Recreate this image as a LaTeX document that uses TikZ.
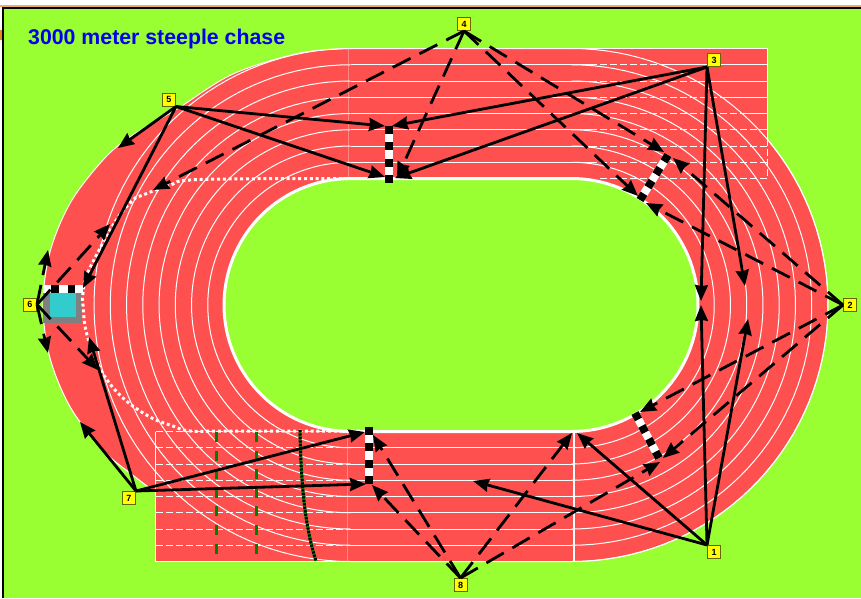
\documentclass[tikz,border=0pt]{standalone}
\usepackage{fontspec}
\setmainfont{Liberation Sans}
\usetikzlibrary{arrows.meta}
\definecolor{turf}{HTML}{99FF33}
\definecolor{track}{HTML}{FF5050}
\definecolor{water}{HTML}{33CCCC}
\definecolor{mark}{HTML}{FFFF00}
\definecolor{markline}{HTML}{666600}
\definecolor{titleblue}{HTML}{0000EE}
\definecolor{hurdle}{HTML}{008000}
\definecolor{edgeorange}{HTML}{E88A20}
\tikzset{
  marker/.style={rectangle,draw=markline,fill=mark,line width=1pt,minimum size=13pt,inner sep=0pt,font=\fontsize{9}{9}\selectfont\bfseries},
  solidarrow/.style={draw=black,line width=2.8pt,-{Stealth[length=16pt,width=13pt,inset=1.2pt]}},
  dasharrow/.style={solidarrow,dash pattern=on 20pt off 10pt},
  lane/.style={draw=white,line width=1pt},
  lanedash/.style={draw=white,line width=1pt,dash pattern=on 7pt off 3pt},
}
\newcommand{\checkbar}[3]{%
  \draw[white,line width=8pt] (#1) -- (#2);
  \draw[black,line width=8pt,dash pattern=on #3pt off #3pt] (#1) -- (#2);}
\begin{document}
\begin{tikzpicture}[x=1pt,y=-1pt]
\useasboundingbox (0,0) rectangle (861,598);
% page
\fill[white] (0,0) rectangle (861,598);
\fill[edgeorange!70] (0,5) rectangle (861,7);
\fill[edgeorange] (0,30) rectangle (2,40);
\fill[turf] (3,8) rectangle (861,598);
\draw[black,line width=1.6pt] (3,598) -- (3,8) -- (861,8);
% track body
\fill[track,draw=white,line width=1pt] plot[smooth,tension=0.55] coordinates {(350.5,561.5) (250,545) (175,505) (130,473) (103,450) (70.5,407.5) (50,358) (43,305) (50,252) (70.5,202.5) (103,160) (130,137) (177,109) (233,74) (300,53) (350.5,48.5)}
  -- (571.5,48.5) -- plot[domain=-90:90,samples=70] ({571.5+256.5*cos(\x)},{305+256.5*sin(\x)}) -- cycle;
\fill[track] (155.5,431.5) rectangle (574,561.5);
\fill[track] (571.5,48.5) rectangle (767,178.5);
\draw[white,line width=1pt] (155.5,431.5) -- (155.5,561.5) -- (574,561.5);
\draw[white,line width=1pt] (571.5,48.5) -- (767,48.5) -- (767,139);
\draw[lanedash] (767,139) -- (767,178.5) -- (600,178.5);
% straights, top
\foreach \k in {1,...,7}{
  \pgfmathsetmacro{\yy}{178.5-16.25*\k}
  \pgfmathsetmacro{\crossx}{min(767,571.5+256.5*sqrt(1-((305-\yy)/256.5)*((305-\yy)/256.5)))}
  \draw[lane] (350.5,\yy) -- (590,\yy);
  \draw[lanedash] (590,\yy) -- (\crossx,\yy);
  \draw[lane] (\crossx,\yy) -- (767,\yy);
}
% straights, bottom
\foreach \k in {0,...,7}{
  \pgfmathsetmacro{\yy}{431.5+16.25*\k}
  \draw[lanedash] (155.5,\yy) -- (347,\yy);
  \draw[lane] (347,\yy) -- (574,\yy);
}
\draw[white,opacity=.3,line width=1pt] (348,48.5) -- (348,178.5);
\draw[white,opacity=.3,line width=1pt] (347,431.5) -- (347,561.5);
% curved lanes
\foreach \k in {1,...,8}{
  \pgfmathsetmacro{\rr}{126.5+16.25*\k}
  \draw[lane] plot[domain=90:270,samples=70] ({350.5+\rr*cos(\x)},{305+\rr*sin(\x)});
  \ifnum\k<8
  \draw[lane] plot[domain=-90:90,samples=70] ({571.5+\rr*cos(\x)},{305+\rr*sin(\x)});
  \fi
}
\draw[white,line width=1pt] plot[domain=-90:90,samples=70] ({571.5+256.5*cos(\x)},{305+256.5*sin(\x)});
% infield
\fill[turf,draw=white,line width=3pt] plot[domain=90:270,samples=70] ({350.5+126.5*cos(\x)},{305+126.5*sin(\x)}) -- plot[domain=-90:90,samples=70] ({571.5+126.5*cos(\x)},{305+126.5*sin(\x)}) -- cycle;
\draw[white,line width=2pt] (574,431.5) -- (574,561.5);
% water jump
\fill[gray] (43,293) rectangle (82,323);
\fill[water] (50,293) rectangle (76,317);
\fill[white] (43,285) rectangle (83,293);
\fill[black] (51,285) rectangle (59,293);
\fill[black] (67.5,285) rectangle (75,293);
% dotted steeple lane
\draw[white,line width=3pt,dash pattern=on 3pt off 2.8pt] plot[smooth,tension=0.6] coordinates {(360,431) (230,431) (190,431) (173,426) (150,417) (123,398) (102,372) (87,335) (83,305) (83,293) (88,272) (115,222) (133,200) (143,195) (170,185) (200,179.5) (350,178.5)};
% hurdles
\draw[hurdle,line width=3pt,dash pattern=on 10pt off 8.6pt] (216,432) -- (216,554);
\draw[hurdle,line width=3pt,dash pattern=on 10pt off 8.6pt] (256,432) -- (256,554);
\draw[hurdle,line width=3pt] (300,430) .. controls (301,490) and (306,530) .. (316,561);
\draw[black,line width=3pt,dash pattern=on 2pt off 1.5pt] (300,430) .. controls (301,490) and (306,530) .. (316,561);
% barriers
\coordinate (ba) at (389,126);
\coordinate (bb) at (389,183);
\coordinate (bc) at (369,427);
\coordinate (bd) at (369,484);
\coordinate (be) at (668,155);
\coordinate (bf) at (640,200);
\coordinate (bg) at (635,413);
\coordinate (bh) at (659,458);
\checkbar{ba}{bb}{8.14}
\checkbar{bc}{bd}{8.14}
\checkbar{be}{bf}{7.6}
\checkbar{bg}{bh}{7.3}
% title
\node[anchor=base west,inner sep=0pt,text=titleblue,font=\fontsize{21.3}{21.3}\selectfont\bfseries] (title) at (28,44) {3000 meter steeple chase};
% markers
\node[marker] (n1) at (714,552) {1};
\node[marker] (n2) at (850,305) {2};
\node[marker] (n3) at (714,60) {3};
\node[marker] (n4) at (464,24) {4};
\node[marker] (n5) at (169,99.5) {5};
\node[marker] (n6) at (30,304.5) {6};
\node[marker] (n7) at (129,498) {7};
\node[marker] (n8) at (460.5,585) {8};
% targets
\coordinate (ta) at (701,305);
\coordinate (tb) at (748,319);
\coordinate (tc) at (577,433);
\coordinate (td) at (473,481);
\coordinate (te) at (701,301);
\coordinate (tf) at (745,286);
\coordinate (tg) at (392,126);
\coordinate (th) at (395,178);
\coordinate (ti) at (646,203);
\coordinate (tj) at (673,158);
\coordinate (tk) at (640,412);
\coordinate (tl) at (663,458);
\coordinate (tm) at (664,152);
\coordinate (tn) at (638,196);
\coordinate (to) at (397,178);
\coordinate (tp) at (153,190);
\coordinate (tq) at (118,148);
\coordinate (tr) at (83,288);
\coordinate (ts) at (385,126);
\coordinate (tt) at (385,177);
\coordinate (tu) at (48,250);
\coordinate (tv) at (48,353);
\coordinate (tw) at (110,224);
\coordinate (tx) at (98,370);
\coordinate (ty) at (80,422);
\coordinate (tz) at (89,337);
\coordinate (ua) at (365,432);
\coordinate (ub) at (366,484);
\coordinate (uc) at (373,435);
\coordinate (ud) at (372,485);
\coordinate (ue) at (572,433);
\coordinate (uf) at (660,462);
% connectors
\foreach \t in {ta,tb,tc,td} \draw[solidarrow] (n1.north west) -- (\t);
\foreach \t in {te,tf,tg,th} \draw[solidarrow] (n3.south west) -- (\t);
\foreach \t in {tq,tr,ts,tt} \draw[solidarrow] (n5.south east) -- (\t);
\foreach \t in {ty,tz,ua,ub} \draw[solidarrow] (n7.north east) -- (\t);
\foreach \t in {ti,tj,tk,tl} \draw[dasharrow] (n2.west) -- (\t);
\foreach \t in {tm,tn,to,tp} \draw[dasharrow] (n4.south) -- (\t);
\foreach \t in {tu,tv,tw,tx} \draw[dasharrow] (n6.east) -- (\t);
\foreach \t in {uc,ud,ue,uf} \draw[dasharrow] (n8.north) -- (\t);
\end{tikzpicture}
\end{document}
